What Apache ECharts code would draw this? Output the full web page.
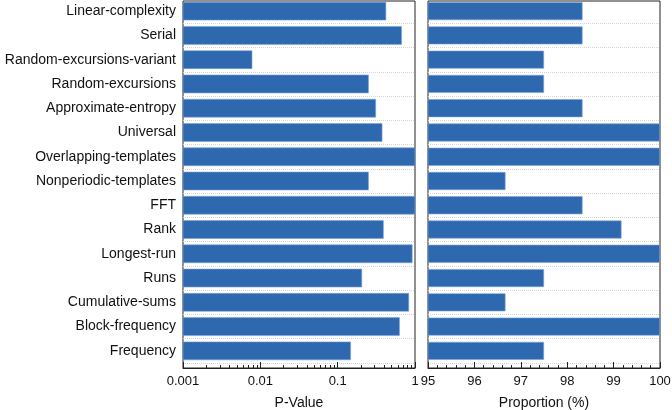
<!DOCTYPE html>
<html>
<head>
<meta charset="utf-8">
<script src="https://cdn.jsdelivr.net/npm/echarts@6/dist/echarts.min.js"></script>
<style>
  html, body { margin: 0; padding: 0; background: #fff; }
  #main { width: 672px; height: 410px; }
</style>
</head>
<body>
<div id="main"></div>
<script>
// test names, top to bottom
var tests = ['Linear-complexity', 'Serial', 'Random-excursions-variant', 'Random-excursions',
  'Approximate-entropy', 'Universal', 'Overlapping-templates', 'Nonperiodic-templates',
  'FFT', 'Rank', 'Longest-run', 'Runs', 'Cumulative-sums', 'Block-frequency', 'Frequency'];
var pValues = [0.42, 0.67, 0.0078, 0.25, 0.31, 0.375, 1, 0.25, 1, 0.39, 0.92, 0.205, 0.83, 0.63, 0.147];
var proportions = [98.33, 98.33, 97.5, 97.5, 98.33, 100, 100, 96.67, 98.33, 99.17, 100, 97.5, 96.67, 100, 97.5];
var pTicks = [0.001, 0.01, 0.1, 1];
var propMin = 95, propMax = 100;

// minor ticks of the log axis (2..9 in each decade), in log10 space
var pMinor = [];
for (var d = -3; d < 0; d++) {
  for (var k = 2; k <= 9; k++) pMinor.push(d + Math.log10(k));
}

var font = 'Liberation Sans, Arial, sans-serif';
var txt = '#111';
var axisCol = '#222';
var barColor = '#2e69b0';
var barEdge = '#7ba3d6';
var barRatio = 0.74;
var dotted = { show: true, lineStyle: { type: 'dotted', color: '#d6d6d6' } };

// grids 0/1 are the framed boxes with the visible x axes,
// grids 2/3 hold the bars (category bands sit a little higher than the frame)
var boxL = { left: 183, right: 257, top: 1, bottom: 42, show: true, borderColor: axisCol, borderWidth: 1, outerBoundsMode: 'none' };
var boxR = { left: 428, right: 12, top: 1, bottom: 42, show: true, borderColor: axisCol, borderWidth: 1, outerBoundsMode: 'none' };
var barL = { left: 183, right: 257, top: -1, bottom: 47, outerBoundsMode: 'none' };
var barR = { left: 428, right: 12, top: -1, bottom: 47, outerBoundsMode: 'none' };

var dom = document.getElementById('main');
var myChart = echarts.init(dom);
var option = {
  backgroundColor: '#fff',
  animation: false,
  grid: [boxL, boxR, barL, barR],
  yAxis: [
    { type: 'value', gridIndex: 0, show: false },
    { type: 'value', gridIndex: 1, show: false },
    {
      type: 'category', gridIndex: 2, data: tests, inverse: true,
      axisLine: { show: false }, axisTick: { show: false },
      axisLabel: { color: txt, fontSize: 14, fontFamily: font, margin: 7 },
      splitLine: dotted
    },
    {
      type: 'category', gridIndex: 3, data: tests, inverse: true,
      axisLine: { show: false }, axisTick: { show: false }, axisLabel: { show: false },
      splitLine: dotted
    }
  ],
  xAxis: [
    {
      type: 'log', gridIndex: 0, logBase: 10, min: pTicks[0], max: pTicks[pTicks.length - 1],
      position: 'bottom',
      name: 'P-Value', nameLocation: 'middle', nameGap: 28,
      nameTextStyle: { color: txt, fontSize: 14, fontFamily: font },
      axisLine: { show: true, lineStyle: { color: axisCol } },
      axisTick: { show: true, inside: true, length: 6, lineStyle: { color: axisCol } },
      axisLabel: {
        color: txt, fontSize: 13, fontFamily: font, margin: 7,
        formatter: function (v) { return String(v); }
      },
      splitLine: { show: false }
    },
    {
      type: 'value', gridIndex: 0, min: -3, max: 0, position: 'bottom',
      axisLine: { show: false }, axisLabel: { show: false }, splitLine: { show: false },
      axisTick: { show: true, inside: true, length: 3, customValues: pMinor, lineStyle: { color: axisCol } }
    },
    {
      type: 'value', gridIndex: 1, min: propMin, max: propMax, interval: 1,
      name: 'Proportion (%)', nameLocation: 'middle', nameGap: 28,
      nameTextStyle: { color: txt, fontSize: 14, fontFamily: font },
      axisLine: { show: true, lineStyle: { color: axisCol } },
      axisTick: { show: true, inside: true, length: 6, lineStyle: { color: axisCol } },
      minorTick: { show: true, splitNumber: 5, length: 3, lineStyle: { color: axisCol } },
      axisLabel: { color: txt, fontSize: 13, fontFamily: font, margin: 7 },
      splitLine: { show: false }
    },
    {
      type: 'log', gridIndex: 2, logBase: 10, min: pTicks[0], max: pTicks[pTicks.length - 1], show: false
    },
    {
      type: 'value', gridIndex: 3, min: propMin, max: propMax, interval: 1, show: false
    }
  ],
  series: [
    {
      // bars on the log axis must start at 0.001, so draw them as custom rects
      name: 'P-Value', type: 'custom', xAxisIndex: 3, yAxisIndex: 2,
      data: pValues.map(function (v, i) { return [v, i]; }),
      encode: { x: 0, y: 1 },
      renderItem: function (params, api) {
        var cat = api.value(1);
        var start = api.coord([pTicks[0], cat]);
        var end = api.coord([api.value(0), cat]);
        var h = api.size([0, 1])[1] * barRatio;
        return {
          type: 'rect',
          shape: { x: start[0], y: start[1] - h / 2, width: end[0] - start[0], height: h },
          style: { fill: barColor, stroke: barEdge, lineWidth: 0.6 }
        };
      }
    },
    {
      name: 'Proportion', type: 'bar', xAxisIndex: 4, yAxisIndex: 3,
      data: proportions, barCategoryGap: '26%',
      itemStyle: { color: barColor, borderColor: barEdge, borderWidth: 0.6 }
    }
  ]
};
if (option && typeof option === 'object') {
  myChart.setOption(option, true);
}
</script>
</body>
</html>
